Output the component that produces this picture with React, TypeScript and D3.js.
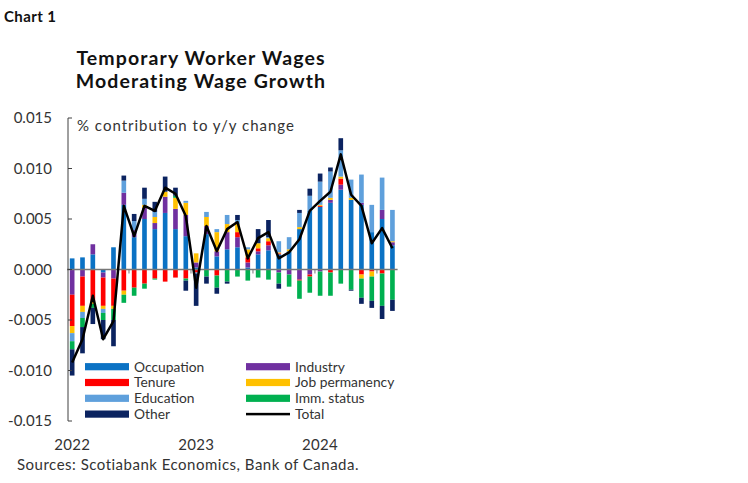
import React, { useEffect, useRef } from "react";
import * as d3 from "d3";

// months: Jan 2022 .. Aug 2024
const months = d3.timeMonths(new Date(2022, 0, 1), new Date(2024, 8, 1));
const yearLabels = ["2022", "2023", "2024"];
const yearIndex = [0, 12, 24];
const yTicks = [-0.015, -0.01, -0.005, 0, 0.005, 0.01, 0.015];

// contributions
const occupation = [0.0011, 0.0012, 0.0015, -0.0003, 0.0022, 0.0064, 0.0032, 0.005, 0.004, 0.0056, 0.004, 0.0033, 0.0002, 0.0035, 0.0013, 0.002, 0.0022, 0.0002, 0.0015, 0.0019, 0.0015, 0.0018, 0.004, 0.0058, 0.0062, 0.0066, 0.0079, 0.0069, 0.0064, 0.0037, 0.005, 0.0024];
const industry = [-0.0025, -0.0007, 0.001, -0.0005, -0.0009, 0.0012, 0.0007, 0.0011, 0.0006, 0.0016, 0.002, 0.0021, 0.0005, 0.0008, 0.0005, 0.0017, 0.001, 0.0005, 0.0003, 0.0005, -0.0003, -0.0005, -0.001, -0.0005, -0.0002, 0.0003, 0.0005, 0, 0.0002, 0, 0.0009, 0.0003];
const tenure = [-0.0031, -0.0029, -0.0032, -0.0028, -0.0027, -0.0021, -0.0018, -0.0014, -0.0009, -0.0012, -0.0008, -0.0009, -0.0003, 0, -0.0006, 0, 0.0005, 0.0005, 0.0003, 0.0004, 0.0001, 0, -0.0001, -0.0002, 0.0001, -0.0003, 0.0006, 0, -0.0005, -0.0002, -0.0004, 0];
const jobPermanency = [-0.0007, -0.0006, -0.0002, -0.0003, -0.0003, -0.0004, 0, 0.0003, 0.0006, 0.0005, 0.0011, 0.0012, 0.0009, 0.0009, 0.0019, 0.0008, 0.0008, 0.0008, 0.0005, 0.0003, 0.0001, 0.0002, 0.0002, 0, 0.0001, 0.0002, 0.0002, 0.0002, -0.0004, -0.0005, 0, 0.0001];
const education = [-0.0008, -0.0006, 0, -0.0004, 0, 0.0012, 0.0009, 0.0006, 0.0005, 0, 0, 0.0002, -0.0001, 0.0005, 0.0003, 0.0009, 0.0004, 0.0002, 0, 0.0001, 0.0011, 0.0012, 0.0014, 0.0015, 0.0023, 0.0026, 0.0026, 0.0018, 0.0028, 0.0027, 0.0032, 0.0031];
const immStatus = [-0.0008, -0.0009, -0.0004, -0.0007, -0.0011, -0.0008, -0.0008, -0.0005, -0.0001, 0, 0.0002, -0.0002, 0, -0.0007, -0.0012, -0.0012, -0.0007, -0.0011, -0.0008, -0.001, -0.0011, -0.0012, -0.0018, -0.0016, -0.0024, -0.0023, -0.0014, -0.002, -0.0019, -0.0024, -0.0032, -0.003];
const other = [-0.0026, -0.0026, -0.0016, -0.0019, -0.0026, 0.0005, 0.0007, 0.0011, 0.001, 0.0015, 0.0008, -0.001, -0.0032, -0.0007, -0.0006, -0.0002, 0.0005, 0, 0.0014, 0.0017, -0.0005, 0, 0.0003, 0.0007, 0.0008, 0.0004, 0.0012, -0.0001, -0.0006, -0.0007, -0.0013, -0.0011];
const total = [-0.0092, -0.0069, -0.0026, -0.0069, -0.0051, 0.0063, 0.0033, 0.0063, 0.0058, 0.0081, 0.0075, 0.0053, -0.0018, 0.0043, 0.0018, 0.004, 0.0047, 0.0011, 0.0031, 0.0037, 0.0011, 0.0017, 0.003, 0.0058, 0.0068, 0.0077, 0.0114, 0.0074, 0.0063, 0.0026, 0.0041, 0.0021];

// series order = Excel stacking order
const seriesNames = ["Occupation", "Industry", "Tenure", "Job permanency", "Education", "Imm. status", "Other"];
const seriesValues = [occupation, industry, tenure, jobPermanency, education, immStatus, other];
const seriesColors = ["#0B72C4", "#7030A0", "#FF0000", "#FFC000", "#5FA0DC", "#00B050", "#0B2360"];

const W = 748;
const H = 483;
const FONT = "Lato, 'Open Sans', sans-serif";

const App: React.FC = () => {
  const svgRef = useRef<SVGSVGElement>(null);

  useEffect(() => {
    if (!svgRef.current) return;
    const svg = d3.select(svgRef.current);
    svg.selectAll("*").remove();

    const x = d3
      .scaleBand<number>()
      .domain(months.map((_, i) => i))
      .range([67, 397.6])
      .paddingInner(0.55)
      .paddingOuter(0.275);
    const y = d3.scaleLinear().domain([-0.015, 0.015]).range([421, 118]);

    // rows for the stack
    const rows = months.map((_, i) => {
      const r: Record<string, number> = {};
      seriesNames.forEach((n, s) => (r[n] = seriesValues[s][i]));
      return r;
    });
    const stacked = d3
      .stack<Record<string, number>>()
      .keys(seriesNames)
      .offset(d3.stackOffsetDiverging)(rows);

    // headings
    svg.append("text").attr("x", 4).attr("y", 22).attr("font-family", FONT)
      .attr("font-weight", 700).attr("font-size", 15).attr("letter-spacing", 0.4)
      .attr("fill", "#111").text("Chart 1");
    const title = svg.append("g").attr("font-family", FONT).attr("font-weight", 700)
      .attr("font-size", 19.5).attr("letter-spacing", 1.1).attr("fill", "#111").attr("text-anchor", "middle");
    title.append("text").attr("x", 201).attr("y", 65).text("Temporary Worker Wages");
    title.append("text").attr("x", 201).attr("y", 88).text("Moderating Wage Growth");

    // bars
    svg.append("g")
      .selectAll("g")
      .data(stacked)
      .join("g")
      .attr("fill", (_, s) => seriesColors[s])
      .selectAll("rect")
      .data((d) => d.map((p, i) => ({ p, i })))
      .join("rect")
      .attr("x", (d) => x(d.i)!)
      .attr("width", x.bandwidth())
      .attr("y", (d) => y(d.p[1]))
      .attr("height", (d) => Math.max(0, y(d.p[0]) - y(d.p[1])));

    // zero line and month ticks
    svg.append("line").attr("x1", 67).attr("x2", 397.6).attr("y1", y(0)).attr("y2", y(0))
      .attr("stroke", "#777").attr("stroke-width", 1.3);
    svg.append("g").selectAll("line")
      .data([6, 12, 18, 24, 30])
      .join("line")
      .attr("x1", (i) => x(i)! - (x.step() - x.bandwidth()) / 2)
      .attr("x2", (i) => x(i)! - (x.step() - x.bandwidth()) / 2)
      .attr("y1", y(0)).attr("y2", y(0) + 4)
      .attr("stroke", "#777").attr("stroke-width", 1);

    // y axis
    const yAxis = svg.append("g").attr("stroke", "#404040").attr("stroke-width", 1);
    yAxis.append("line").attr("x1", 68).attr("x2", 68).attr("y1", y(0.015)).attr("y2", y(-0.015));
    yAxis.selectAll("line.tick").data(yTicks).join("line").attr("class", "tick")
      .attr("x1", 68).attr("x2", 72).attr("y1", (d) => y(d)).attr("y2", (d) => y(d));
    svg.append("g").attr("font-family", FONT).attr("font-size", 15).attr("fill", "#333")
      .attr("text-anchor", "end")
      .selectAll("text").data(yTicks).join("text")
      .attr("x", 52).attr("y", (d) => y(d)).attr("dy", "0.36em")
      .text((d) => (Math.abs(d) < 1e-9 ? "0.000" : d.toFixed(3)));

    svg.append("text").attr("x", 77).attr("y", 131).attr("font-family", FONT)
      .attr("font-size", 15).attr("letter-spacing", 1.0).attr("fill", "#333")
      .text("% contribution to y/y change");

    // total line
    const line = d3.line<number>()
      .x((_, i) => x(i)! + x.bandwidth() / 2)
      .y((d) => y(d));
    svg.append("path").datum(total).attr("d", line).attr("fill", "none")
      .attr("stroke", "#000").attr("stroke-width", 2.5).attr("stroke-linejoin", "round");

    // year labels
    svg.append("g").attr("font-family", FONT).attr("font-size", 15).attr("letter-spacing", 0.3)
      .attr("fill", "#333").attr("text-anchor", "middle")
      .selectAll("text").data(yearLabels).join("text")
      .attr("x", (_, k) => x(yearIndex[k])! + x.bandwidth() / 2)
      .attr("y", 450).text((d) => d);

    // legend, two columns read row-wise
    const legendNames = [...seriesNames, "Total"];
    const legendColors = [...seriesColors, "#000"];
    const legend = svg.append("g").attr("font-family", FONT).attr("font-size", 13.8).attr("fill", "#333");
    const items = legend.selectAll("g").data(legendNames).join("g")
      .attr("transform", (_, k) => `translate(${k % 2 === 0 ? 85 : 246}, ${366.7 + Math.floor(k / 2) * 15.8})`);
    items.append("rect")
      .attr("x", 0).attr("width", 44)
      .attr("y", (d) => (d === "Total" ? -1.25 : -3.6))
      .attr("height", (d) => (d === "Total" ? 2.5 : 7.2))
      .attr("fill", (_, k) => legendColors[k]);
    items.append("text").attr("x", 49).attr("dy", "0.35em").text((d) => d);

    svg.append("text").attr("x", 17).attr("y", 470).attr("font-family", FONT)
      .attr("font-size", 15).attr("letter-spacing", 0.5).attr("fill", "#333")
      .text("Sources: Scotiabank Economics, Bank of Canada.");
  }, []);

  return (
    <div style={{ position: "absolute", left: 0, top: 0, width: W, height: H, background: "#fff" }}>
      <svg ref={svgRef} width={W} height={H} />
    </div>
  );
};

export default App;
